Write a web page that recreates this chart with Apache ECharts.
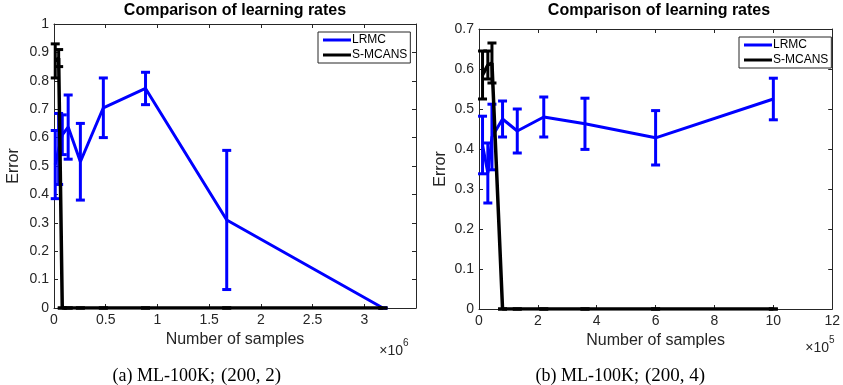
<!DOCTYPE html>
<html><head><meta charset="utf-8">
<script src="https://cdn.jsdelivr.net/npm/echarts@6/dist/echarts.min.js"></script>
<style>html,body{margin:0;padding:0;background:#fff}#c{width:843px;height:385px}</style>
</head><body><div id="c"></div>
<script>
// ---- data: left panel (a) ML-100K; (200,2) ----
const leftX = [12000, 45000, 80000, 137000, 255000, 477000, 885000, 1670000, 3180000];
const leftLRMC = [0.505, 0.56, 0.61, 0.637, 0.515, 0.705, 0.773, 0.31, 0.0];
const leftLRMCErr = [0.12, 0.125, 0.07, 0.113, 0.135, 0.105, 0.057, 0.245, 0.0];
const leftSMCANS = [0.87, 0.88, 0, 0, 0, 0, 0, 0, 0];
const leftSMCANSErr = [0.06, 0.03, 0, 0, 0, 0, 0, 0, 0];
const leftXTicks = ['0', '0.5', '1', '1.5', '2', '2.5', '3'];
// ---- data: right panel (b) ML-100K; (200,4) ----
const rightX = [12000, 30000, 44000, 80000, 130000, 220000, 360000, 600000, 1000000];
const rightLRMC = [0.41, 0.34, 0.43, 0.475, 0.445, 0.48, 0.463, 0.428, 0.525];
const rightLRMCErr = [0.072, 0.075, 0.082, 0.045, 0.055, 0.05, 0.064, 0.068, 0.052];
const rightSMCANS = [0.585, 0.61, 0.615, 0, 0, 0, 0, 0, 0];
const rightSMCANSErr = [0.06, 0.035, 0.05, 0, 0, 0, 0, 0, 0];
const rightXTicks = ['0', '2', '4', '6', '8', '10', '12'];

const BLUE = '#0000ff', BLACK = '#000000', AX = '#262626';
const FONT = 'Liberation Sans';

function pairs(xs, ys) { return xs.map((x, i) => [x, ys[i]]); }
function triples(xs, ys, es) { return xs.map((x, i) => [x, ys[i], es[i]]); }

function errRender(color) {
  return function (params, api) {
    const x = api.value(0), y = api.value(1), e = api.value(2);
    const t = api.coord([x, y + e]), b = api.coord([x, y - e]);
    const hw = 4.5;
    const st = { stroke: color, lineWidth: 3, fill: null };
    return {
      type: 'group', children: [
        { type: 'line', shape: { x1: t[0], y1: t[1], x2: b[0], y2: b[1] }, style: st },
        { type: 'line', shape: { x1: t[0] - hw, y1: t[1], x2: t[0] + hw, y2: t[1] }, style: st },
        { type: 'line', shape: { x1: b[0] - hw, y1: b[1], x2: b[0] + hw, y2: b[1] }, style: st }
      ]
    };
  };
}

const grids = [
  { left: 54, top: 24, width: 362, height: 284 },
  { left: 479, top: 29, width: 359, height: 280 }
];

function xAxes(gi, max, interval, div, pos, showLab) {
  return {
    type: 'value', gridIndex: gi, position: pos, min: 0, max: max, interval: interval,
    axisLine: { show: true, onZero: false, lineStyle: { color: AX, width: 1 } },
    axisTick: { show: true, inside: true, length: 4, lineStyle: { color: AX } },
    splitLine: { show: false },
    axisLabel: {
      show: showLab, margin: 5, color: AX, fontSize: 14, fontFamily: FONT,
      showMaxLabel: gi === 1,
      formatter: v => { const r = v / div; return String(Math.round(r * 10) / 10); }
    },
    name: showLab ? 'Number of samples' : '', nameLocation: 'middle', nameGap: 24,
    nameTextStyle: { color: AX, fontSize: 16, fontFamily: FONT }
  };
}
function yAxes(gi, max, pos, showLab, gap) {
  return {
    type: 'value', gridIndex: gi, position: pos, min: 0, max: max, interval: 0.1,
    axisLine: { show: true, onZero: false, lineStyle: { color: AX, width: 1 } },
    axisTick: { show: true, inside: true, length: 4, lineStyle: { color: AX } },
    splitLine: { show: false },
    axisLabel: {
      show: showLab, margin: 5, color: AX, fontSize: 14, fontFamily: FONT,
      formatter: v => String(Math.round(v * 10) / 10)
    },
    name: showLab ? 'Error' : '', nameLocation: 'middle', nameGap: gap,
    nameTextStyle: { color: AX, fontSize: 16, fontFamily: FONT }
  };
}

function legend(left, top) {
  return {
    data: ['LRMC', 'S-MCANS'], orient: 'vertical', left: left, top: top,
    icon: 'rect', itemWidth: 28, itemHeight: 3, itemGap: 3,
    padding: [2, 3, 2, 5], borderColor: AX, borderWidth: 1, backgroundColor: '#fff',
    textStyle: { fontSize: 12, fontFamily: FONT, color: '#000', padding: [0, 0, 0, -4] }
  };
}

function txt(x, y, text, size, opts) {
  return { type: 'text', x: x, y: y, style: Object.assign({ text: text, fontSize: size, fontFamily: FONT, fill: '#000', textAlign: 'center', textVerticalAlign: 'middle' }, opts || {}) };
}

const option = {
  animation: false,
  grid: grids,
  xAxis: [
    xAxes(0, 3500000, 500000, 1e6, 'bottom', true),
    xAxes(1, 1200000, 200000, 1e5, 'bottom', true),
    xAxes(0, 3500000, 500000, 1e6, 'top', false),
    xAxes(1, 1200000, 200000, 1e5, 'top', false)
  ],
  yAxis: [
    yAxes(0, 1, 'left', true, 32),
    yAxes(1, 0.7, 'left', true, 30),
    yAxes(0, 1, 'right', false, 0),
    yAxes(1, 0.7, 'right', false, 0)
  ],
  legend: [legend(318, 32), legend(739, 37)],
  series: [
    { name: 'LRMC', type: 'line', xAxisIndex: 0, yAxisIndex: 0, data: pairs(leftX, leftLRMC),
      showSymbol: false, lineStyle: { color: BLUE, width: 3 }, itemStyle: { color: BLUE }, z: 2 },
    { name: 'LRMC err', type: 'custom', xAxisIndex: 0, yAxisIndex: 0, data: triples(leftX, leftLRMC, leftLRMCErr),
      renderItem: errRender(BLUE), encode: { x: 0, y: 1 }, z: 2 },
    { name: 'S-MCANS', type: 'line', xAxisIndex: 0, yAxisIndex: 0, data: pairs(leftX, leftSMCANS),
      showSymbol: false, lineStyle: { color: BLACK, width: 3.5 }, itemStyle: { color: BLACK }, z: 3 },
    { name: 'S-MCANS err', type: 'custom', xAxisIndex: 0, yAxisIndex: 0, data: triples(leftX, leftSMCANS, leftSMCANSErr),
      renderItem: errRender(BLACK), encode: { x: 0, y: 1 }, z: 3 },

    { name: 'LRMC', type: 'line', xAxisIndex: 1, yAxisIndex: 1, data: pairs(rightX, rightLRMC),
      showSymbol: false, lineStyle: { color: BLUE, width: 3 }, itemStyle: { color: BLUE }, z: 2 },
    { name: 'LRMC err', type: 'custom', xAxisIndex: 1, yAxisIndex: 1, data: triples(rightX, rightLRMC, rightLRMCErr),
      renderItem: errRender(BLUE), encode: { x: 0, y: 1 }, z: 2 },
    { name: 'S-MCANS', type: 'line', xAxisIndex: 1, yAxisIndex: 1, data: pairs(rightX, rightSMCANS),
      showSymbol: false, lineStyle: { color: BLACK, width: 3.5 }, itemStyle: { color: BLACK }, z: 3 },
    { name: 'S-MCANS err', type: 'custom', xAxisIndex: 1, yAxisIndex: 1, data: triples(rightX, rightSMCANS, rightSMCANSErr),
      renderItem: errRender(BLACK), encode: { x: 0, y: 1 }, z: 3 }
  ],
  graphic: [
    txt(235, 11, 'Comparison of learning rates', 16, { fontWeight: 'bold' }),
    txt(659, 11, 'Comparison of learning rates', 16, { fontWeight: 'bold' }),
    txt(403, 351, '×10', 14, { fill: AX, textAlign: 'right' }),
    txt(403, 343, '6', 10, { fill: AX, textAlign: 'left' }),
    txt(829, 348, '×10', 14, { fill: AX, textAlign: 'right' }),
    txt(829, 340, '5', 10, { fill: AX, textAlign: 'left' }),
    txt(215, 376, '(a) ML-100K;', 18, { fontFamily: 'Liberation Serif', textAlign: 'right' }),
    txt(221, 376, '(200, 2)', 19, { fontFamily: 'Liberation Serif', textAlign: 'left' }),
    txt(639, 376, '(b) ML-100K;', 18, { fontFamily: 'Liberation Serif', textAlign: 'right' }),
    txt(645, 376, '(200, 4)', 19, { fontFamily: 'Liberation Serif', textAlign: 'left' })
  ]
};
const chart = echarts.init(document.getElementById('c'), null, { renderer: 'canvas' });
chart.setOption(option);
</script>
</body></html>
